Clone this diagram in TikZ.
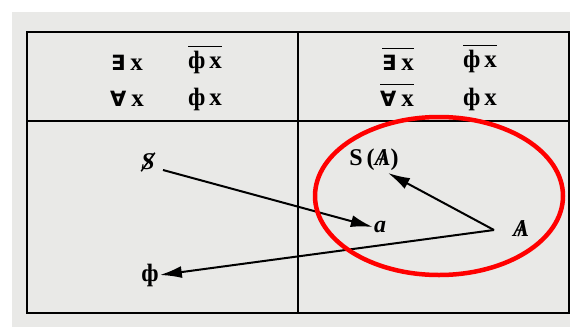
\documentclass[tikz,border=0pt]{standalone}
\usepackage{fontspec}
\setmainfont{Liberation Serif}
\newfontfamily\dvsans{DejaVu Sans}
\usetikzlibrary{arrows.meta}
\newcommand{\myBarA}{\ooalign{\hfil\textbf{\textit{A}}\hfil\cr\hfil\textbf{/}\hfil}}
\newcommand{\myX}{\textbf{x}}
\newcommand{\myEx}{{\dvsans\bfseries\fontsize{21}{24}\selectfont ∃}}
\newcommand{\myAll}{{\dvsans\bfseries\fontsize{21}{24}\selectfont ∀}}
\newcommand{\myPhi}{\textbf{ф}}
\newcommand{\myOver}[1]{$\overline{\hbox{\rule{0pt}{21pt}#1}}$}
\definecolor{paper}{HTML}{E9E9E7}
\tikzset{
  cell/.style={draw=black, line width=2.4pt},
  sym/.style={inner sep=1pt, font=\fontsize{25}{28}\selectfont\bfseries},
  lab/.style={inner sep=1pt, font=\fontsize{24}{28}\selectfont\bfseries},
  arr/.style={line width=2pt, -{Latex[length=22pt,width=12pt]}},
  ring/.style={draw=red, line width=4.5pt}
}
\begin{document}
\begin{tikzpicture}[x=1pt,y=-1pt]
\useasboundingbox (0,0) rectangle (570,327);
\fill[white] (0,0) rectangle (570,327);
\fill[paper] (12,12) rectangle (570,327);
% table
\draw[cell] (27,32) rectangle (569,313);
\draw[cell] (27,121) -- (569,121);
\draw[cell] (298,32) -- (298,313);
% top left
\node[sym] (e1) at (127,63) {\myEx\hspace{5pt}\myX};
\node[sym] (p1) at (205,60) {\myOver{\myPhi\hspace{4pt}\myX}};
\node[sym] (a1) at (127,99) {\myAll\hspace{5pt}\myX};
\node[sym] (p2) at (205,99) {\myPhi\hspace{4pt}\myX};
% top right
\node[sym] (e2) at (398,59) {\myOver{\myEx\hspace{5pt}\myX}};
\node[sym] (p3) at (480,59) {\myOver{\myPhi\hspace{4pt}\myX}};
\node[sym] (a2) at (397,95) {\myOver{\myAll\hspace{5pt}\myX}};
\node[sym] (p4) at (480,99) {\myPhi\hspace{4pt}\myX};
% bottom left
\node[lab] (S) at (148,162) {\textit{S}};
\draw[line width=1.5pt] ([xshift=1pt]S.south west) -- ([xshift=-1pt]S.north east);
\node[sym] (Phi) at (150,275) {\myPhi};
% bottom right
\node[lab] (SA) at (374,160) {S\,(\myBarA)};
\node[lab] (a) at (380,227) {\textit{a}};
\node[lab] (A) at (521,229) {\myBarA};
\coordinate (v) at (494,230);
% arrows
\draw[arr] (163,170) -- (a.west);
\draw[arr] (v) -- (388,173);
\draw[arr] (v) -- (Phi.east);
% red ellipse
\draw[ring] (439,196) ellipse [x radius=124, y radius=79];
\end{tikzpicture}
\end{document}
